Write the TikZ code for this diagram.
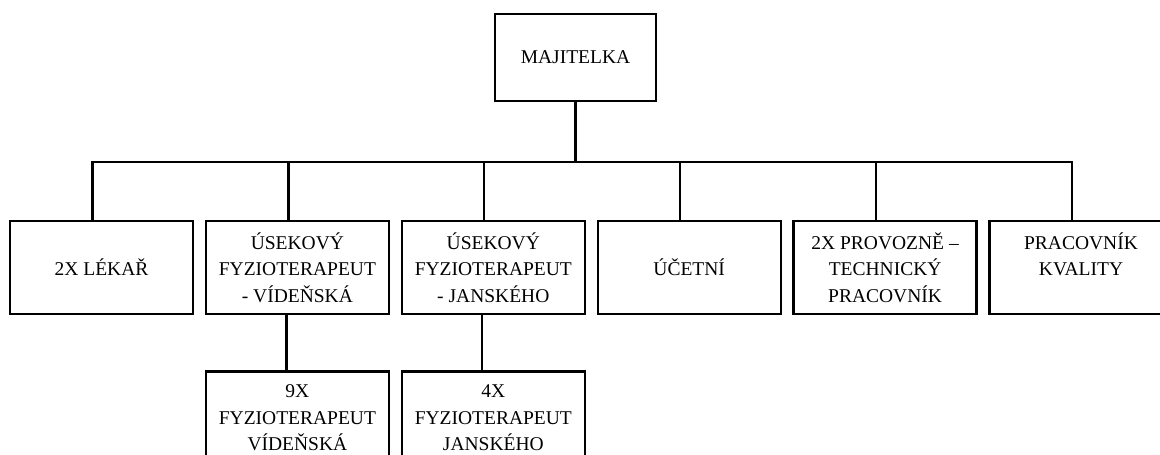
\documentclass[tikz,border=0pt]{standalone}
\usepackage{fontspec}
\setmainfont{Liberation Serif}
\usepackage{tikz}
\usetikzlibrary{positioning}
\usetikzlibrary{calc}

\begin{document}
\begin{tikzpicture}[
                x=1pt, y=-1pt,
                node distance=55pt and 10.5pt,
                every node/.style={draw, line width=2.4pt, minimum width=183pt, minimum height=93pt, inner sep=0pt, align=center, font=\fontsize{19.5}{26.5}\selectfont},
                link/.style={line width=2.2pt}
            ]
            \useasboundingbox (0,0) rectangle (1160,455);

            % Define nodes
            \node[minimum width=161pt, minimum height=87pt] (boss) at (575.5,57.5) {MAJITELKA};
            \node (lekar) at (101.5,267.5) {2X LÉKAŘ};
            \node[right=of lekar] (vid) {ÚSEKOVÝ\\FYZIOTERAPEUT\\- VÍDEŇSKÁ};
            \node[right=of vid] (jan) {ÚSEKOVÝ\\FYZIOTERAPEUT\\- JANSKÉHO};
            \node[right=of jan] (ucetni) {ÚČETNÍ};
            \node[right=of ucetni] (tech) {2X PROVOZNĚ –\\TECHNICKÝ\\PRACOVNÍK};
            \node[right=of tech] (kval) {PRACOVNÍK\\KVALITY\\\phantom{K}};
            \node[below=of vid] (vid9) {9X\\FYZIOTERAPEUT\\VÍDEŇSKÁ};
            \node[below=of jan] (jan4) {4X\\FYZIOTERAPEUT\\JANSKÉHO};

            % Lines from the owner to the staff
            \coordinate (bar) at (0,162);
            \draw[link] (boss.south) -- (boss.south |- bar);
            \foreach \n in {lekar,vid,jan,ucetni,tech,kval} {
                \coordinate (\n-in) at ([xshift=-9pt]\n.north);
                \draw[link] (\n-in) -- (\n-in |- bar);
            }
            \draw[link] ([xshift=-1.1pt]lekar-in |- bar) -- ([xshift=1.1pt]kval-in |- bar);

            % Lines down to the physiotherapists
            \foreach \n/\m in {vid/vid9,jan/jan4} {
                \coordinate (\n-out) at ([xshift=-11pt]\n.south);
                \draw[link] (\n-out) -- (\n-out |- \m.north);
            }

        \end{tikzpicture}
\end{document}
